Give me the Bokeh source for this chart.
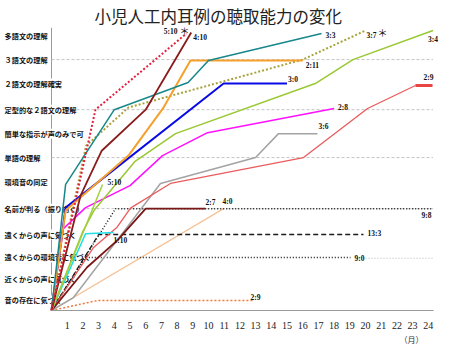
from bokeh.plotting import figure
from bokeh.models import FixedTicker, Range1d, Title
from bokeh.core.properties import value
from bokeh.embed import file_html
from bokeh.resources import INLINE

TITLE = "小児人工内耳例の聴取能力の変化"
CATEGORIES = ["音の存在に気づく", "近くからの声に気づく", "遠くからの環境音に気づく",
              "遠くからの声に気づく", "名前が判る（振り向く）", "環境音の同定", "単語の理解",
              "簡単な指示が声のみで可", "定型的な２語文の理解", "２語文の理解確実",
              "３語文の理解", "多語文の理解"]
CATEGORY_LEVELS = [1.17, 2.03, 2.93, 3.87, 4.93, 6.0, 7.02, 8.0, 8.98, 10.05, 11.03, 12.01]
GRID_LEVELS = [4.93, 7.02, 8.98, 11.03]
MONTH_TICKS = list(range(1, 25))
MONTH_UNIT = "（月）"
ORIGIN = 0.76
LAST_MONTH = 24.3

# months after implantation / ability level for each child
m_33 = [0, 0.9, 4.0, 8.7, 10.0, 17.2];               l_33 = [ORIGIN, 5.92, 8.98, 10.09, 10.99, 12.1]
m_510s = [0, 2.8, 8.6];                              l_510s = [ORIGIN, 8.98, 12.1]
m_410 = [0, 1.85, 3.2, 6.0, 8.9];                    l_410 = [ORIGIN, 5.46, 7.3, 8.98, 12.14]
m_211 = [0, 0.9, 4.9, 7.1, 8.85, 16.0];              l_211 = [ORIGIN, 4.85, 7.1, 9.03, 10.99, 10.99]
m_30 = [0, 0.9, 10.96, 15.0];                        l_30 = [ORIGIN, 4.97, 10.05, 10.05]
m_37 = [0, 2.2, 4.9, 16.0, 20.0];                    l_37 = [ORIGIN, 7.5, 9.07, 11.03, 12.22]
m_34 = [0, 2.0, 2.7, 5.3, 7.9, 16.8, 19.2, 24.3];    l_34 = [ORIGIN, 4.0, 4.85, 6.85, 8.0, 10.05, 11.03, 12.22]
m_510 = [0, 3.25];                                   l_510 = [ORIGIN, 5.92]
m_28 = [0, 0.76, 2.17, 5.0, 7.07, 9.94, 18.0];       l_28 = [ORIGIN, 4.11, 4.97, 5.87, 7.1, 8.04, 9.03]
m_36 = [0, 1.4, 6.94, 13.0, 14.46, 16.94];           l_36 = [ORIGIN, 1.29, 5.96, 7.02, 8.0, 8.0]
m_29 = [0, 2.68, 4.18, 5.03, 7.58, 16.05, 20.13, 23.18]
l_29 = [ORIGIN, 3.34, 4.17, 4.95, 5.96, 7.02, 9.03, 9.97]
m_29_end = [23.18, 24.27];                           l_29_end = [9.97, 9.97]
m_27 = [0, 2.27, 4.18, 6.0, 9.81];                   l_27 = [ORIGIN, 2.53, 3.62, 4.93, 4.93]
m_40 = [0, 10.96];                                   l_40 = [ORIGIN, 4.93]
m_110 = [0, 2.17, 3.95];                             l_110 = [ORIGIN, 3.9, 3.95]
m_133 = [0, 3.0, 19.87];                             l_133 = [ORIGIN, 3.87, 3.87]
m_90 = [0, 2.2, 19.04];                              l_90 = [ORIGIN, 2.93, 2.93]
m_90_end = [20.0, 24.27];                            l_90_end = [2.9, 2.9]
m_98 = [0, 4.08, 24.27];                             l_98 = [ORIGIN, 4.93, 4.93]
m_29b = [0, 2.93, 12.8];                             l_29b = [ORIGIN, 1.17, 1.17]

LABELS = ["3:3", "5:10", "4:10", "2:11", "3:0", "3:7", "3:4", "5:10", "2:8", "3:6",
          "2:9", "2:7", "4:0", "1:10", "13:3", "9:0", "9:8", "2:9"]

# ---- geometry of the page (pixels) ----
W, H = 460, 345
AXIS_X_PX, AXIS_Y_PX, TOP_PX = 51, 310, 27
PX_PER_MONTH, PX_PER_LEVEL = 15.7, 24.43

x_start = -AXIS_X_PX / PX_PER_MONTH
x_end = (W - AXIS_X_PX) / PX_PER_MONTH
y_start = ORIGIN
y_end = ORIGIN + (AXIS_Y_PX - TOP_PX) / PX_PER_LEVEL

p = figure(width=W, height=H, output_backend="svg", toolbar_location=None,
           x_range=Range1d(x_start, x_end), y_range=Range1d(y_start, y_end),
           y_axis_location=None, min_border=0, min_border_top=TOP_PX,
           min_border_bottom=H - AXIS_Y_PX, title=TITLE)
p.outline_line_color = None
p.grid.visible = False
p.background_fill_color = "white"
p.border_fill_color = "white"

p.title.text_font = "Noto Sans CJK JP"
p.title.text_font_size = "16.5px"
p.title.text_font_style = "normal"
p.title.text_color = "#222222"
p.title.align = "left"
p.title.offset = 94
p.title.standoff = 0

ax = p.xaxis[0]
ax.ticker = FixedTicker(ticks=MONTH_TICKS)
ax.bounds = (0, LAST_MONTH)
ax.axis_line_color = "#9a9a9a"
ax.axis_line_width = 1
ax.major_tick_line_color = None
ax.minor_tick_line_color = None
ax.major_label_text_font = "Liberation Serif"
ax.major_label_text_font_size = "10px"
ax.major_label_text_color = "#222222"
ax.major_label_standoff = 5

# unit of the month axis, below the tick labels at the right
p.add_layout(Title(text=MONTH_UNIT, align="left", offset=399, standoff=0,
                   text_font="Noto Sans CJK JP", text_font_size="8px",
                   text_font_style="normal", text_color="#333333"), "below")

# y axis line (drawn in the frame, categories overlap it as in the original)
p.segment(x0=[0], y0=[ORIGIN], x1=[0], y1=[y_end], line_color="#9a9a9a", line_width=1)

# dashed grid guides
p.segment(x0=[0] * len(GRID_LEVELS), y0=GRID_LEVELS, x1=[LAST_MONTH] * len(GRID_LEVELS),
          y1=GRID_LEVELS, line_color="#c4c4c4", line_width=1, line_dash="3 2")

# category texts
p.text(x=[-2.99] * len(CATEGORIES), y=CATEGORY_LEVELS, text=CATEGORIES,
       text_align="left", text_baseline="middle", text_font=value("Noto Sans CJK JP"),
       text_font_size="7.2px", text_font_style="bold", text_color="#111111",
       background_fill_color="white")

series = [
    (m_40, l_40, dict(line_color="#f7c296", line_width=1.3)),
    (m_29b, l_29b, dict(line_color="#f07a3c", line_width=1.5, line_dash="2 2")),
    (m_90, l_90, dict(line_color="#1a1a1a", line_width=1.5, line_dash="1 2")),
    (m_90_end, l_90_end, dict(line_color="#b4b4b4", line_width=1, line_dash="1 2")),
    (m_133, l_133, dict(line_color="#1a1a1a", line_width=1.3, line_dash="5 3")),
    (m_98, l_98, dict(line_color="#1a1a1a", line_width=1.5, line_dash="1 2")),
    (m_36, l_36, dict(line_color="#a3a3a3", line_width=1.5)),
    (m_29, l_29, dict(line_color="#ea5b5b", line_width=1.3)),
    (m_29_end, l_29_end, dict(line_color="#ea4545", line_width=3)),
    (m_27, l_27, dict(line_color="#7a1717", line_width=1.8)),
    (m_110, l_110, dict(line_color="#22dfe6", line_width=1.6)),
    (m_28, l_28, dict(line_color="#ff10ff", line_width=1.5)),
    (m_34, l_34, dict(line_color="#99c832", line_width=1.5)),
    (m_510, l_510, dict(line_color="#a4cf3e", line_width=1.5)),
    (m_37, l_37, dict(line_color="#a9a23c", line_width=2, line_dash="2 2")),
    (m_30, l_30, dict(line_color="#0a0ae6", line_width=2)),
    (m_211, l_211, dict(line_color="#f6a02c", line_width=2)),
    (m_33, l_33, dict(line_color="#16878a", line_width=1.5)),
    (m_410, l_410, dict(line_color="#8a1c1c", line_width=1.8)),
    (m_510s, l_510s, dict(line_color="#e3203f", line_width=2, line_dash="2 2")),
]
for mx, ly, st in series:
    p.line(mx, ly, **st)

# end labels: (months, levels, label, dx, dy, align)
ends = [
    (m_33, l_33, LABELS[0], 4, 2, "left"),
    (m_510s, l_510s, LABELS[1], -9, -2, "right"),
    (m_410, l_410, LABELS[2], 2, 5, "left"),
    (m_211, l_211, LABELS[3], 3, 5, "left"),
    (m_30, l_30, LABELS[4], 1, -4, "left"),
    (m_37, l_37, LABELS[5], 1, 5, "left"),
    (m_34, l_34, LABELS[6], 0, 9, "center"),
    (m_510, l_510, LABELS[7], 5, -2, "left"),
    (m_28, l_28, LABELS[8], 4, -1, "left"),
    (m_36, l_36, LABELS[9], 1, -7, "left"),
    (m_29_end, l_29_end, LABELS[10], -4, -8, "center"),
    (m_27, l_27, LABELS[11], 0, -6, "left"),
    (m_40, l_40, LABELS[12], -1, -7, "left"),
    (m_110, l_110, LABELS[13], 0, 8, "left"),
    (m_133, l_133, LABELS[14], 4, -1, "left"),
    (m_90, l_90, LABELS[15], 4, 1, "left"),
    (m_98, l_98, LABELS[16], -6, 7, "center"),
    (m_29b, l_29b, LABELS[17], -2, -3, "left"),
]
for mx, ly, lab, dx, dy, al in ends:
    p.text(x=[mx[-1]], y=[ly[-1]], text=[lab], x_offset=dx, y_offset=dy,
           text_align=al, text_baseline="middle", text_font=value("Liberation Serif"),
           text_font_size="7.5px", text_font_style="bold", text_color="#111111")

# asterisks marking two children
for mx, ly, dx, dy in [(m_510s, l_510s, -2, -3), (m_37, l_37, 17, 2)]:
    p.text(x=[mx[-1]], y=[ly[-1]], text=["＊"], x_offset=dx, y_offset=dy,
           text_align="center", text_baseline="middle", text_font=value("Noto Sans CJK JP"),
           text_font_size="10px", text_color="#111111")

open("out.html", "w").write(file_html(p, INLINE))
